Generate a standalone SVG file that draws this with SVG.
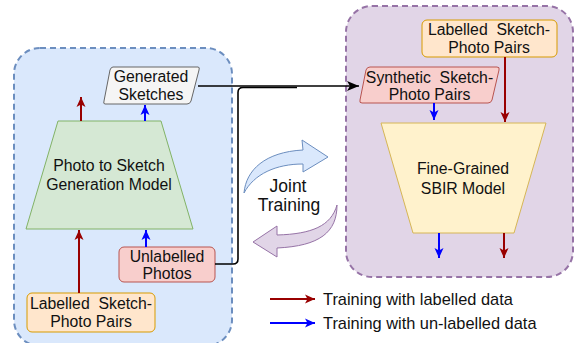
<svg xmlns="http://www.w3.org/2000/svg" width="576" height="343" viewBox="0 0 576 343">
  <defs>
    <marker id="head-red" markerUnits="userSpaceOnUse" markerWidth="12" markerHeight="12" viewBox="0 0 12 12" refX="11" refY="6" orient="auto">
      <path d="M1,1.5 L11,6 L1,10.5 L3.5,6 Z" fill="#990000"/>
    </marker>
    <marker id="head-blue" markerUnits="userSpaceOnUse" markerWidth="12" markerHeight="12" viewBox="0 0 12 12" refX="11" refY="6" orient="auto">
      <path d="M1,1.5 L11,6 L1,10.5 L3.5,6 Z" fill="#0000ff"/>
    </marker>
    <marker id="head-black" markerUnits="userSpaceOnUse" markerWidth="14" markerHeight="14" viewBox="0 0 14 14" refX="13" refY="7" orient="auto">
      <path d="M1,2 L13,7 L1,12 L4,7 Z" fill="#000000"/>
    </marker>
  </defs>
  <style>
    text { font-family: "Liberation Sans", Arial, Helvetica, sans-serif; font-size: 15.8px; fill: #111111; text-anchor: middle; }
    .legend { font-size: 16.4px; text-anchor: start; }
    .joint { font-size: 17.5px; }
    .red { stroke: #990000; stroke-width: 2; fill: none; marker-end: url(#head-red); }
    .blue { stroke: #0000ff; stroke-width: 2; fill: none; marker-end: url(#head-blue); }
    .link { stroke: #000000; stroke-width: 1.6; fill: none; }
  </style>

  <!-- containers -->
  <g id="generator-panel">
    <rect x="14" y="48" width="218" height="298" rx="26" fill="#dae8fc" stroke="#6c8ebf" stroke-width="2" stroke-dasharray="6 4"/>
  </g>
  <g id="sbir-panel">
    <rect x="346" y="6" width="227" height="271" rx="26" fill="#e1d5e7" stroke="#9673a6" stroke-width="2" stroke-dasharray="6 4"/>
  </g>

  <!-- joint training -->
  <g id="joint-training">
    <path d="M244,193 C246,170 265,152 303,150 L302,140 L328,157 L303,172 L303,164 C276,164 254,174 244,193 Z" fill="#dae8fc" stroke="#6c8ebf" stroke-width="1"/>
    <path d="M337,205 C337,232 320,246 277,248 L277,257 L253,242 L277,226 L277,235 C312,234 331,226 337,205 Z" fill="#e1d5e7" stroke="#9673a6" stroke-width="1"/>
    <text class="joint" x="288" y="191.5">Joint</text>
    <text class="joint" x="289" y="211">Training</text>
  </g>

  <!-- nodes -->
  <g id="generated-sketches">
    <path d="M113,67 L198,67 Q200,67 199,70 L191,101 Q190,104 187,104 L105,104 Q103,104 104,101 L110,70 Q111,67 113,67 Z" fill="#f5f5f5" stroke="#666666" stroke-width="1"/>
    <text x="151" y="81.5">Generated</text>
    <text x="151" y="99.5">Sketches</text>
  </g>
  <g id="sketch-generator">
    <polygon points="58,121 161,121 193,229 26,229" fill="#d5e8d4" stroke="#82b366" stroke-width="1"/>
    <text x="109" y="171">Photo to Sketch</text>
    <text x="109" y="190">Generation Model</text>
  </g>
  <g id="unlabelled-photos">
    <rect x="119" y="247" width="96" height="35" rx="5" fill="#f8cecc" stroke="#b85450" stroke-width="1"/>
    <text x="167" y="262">Unlabelled</text>
    <text x="167" y="279">Photos</text>
  </g>
  <g id="labelled-pairs-left">
    <rect x="27" y="293" width="128" height="39" rx="5" fill="#ffe6cc" stroke="#d79b00" stroke-width="1"/>
    <text x="91" y="309" xml:space="preserve">Labelled  Sketch-</text>
    <text x="91" y="327">Photo Pairs</text>
  </g>
  <g id="labelled-pairs-right">
    <rect x="422" y="20" width="135" height="37" rx="5" fill="#ffe6cc" stroke="#d79b00" stroke-width="1"/>
    <text x="489" y="35" xml:space="preserve">Labelled  Sketch-</text>
    <text x="489" y="52.5">Photo Pairs</text>
  </g>
  <g id="synthetic-pairs">
    <path d="M370,67 L497,67 Q500,67 499,70 L492,100 Q491,103 488,103 L362,103 Q359,103 360,100 L366,70 Q367,67 370,67 Z" fill="#f8cecc" stroke="#b85450" stroke-width="1"/>
    <text x="429.5" y="82.5" xml:space="preserve">Synthetic  Sketch-</text>
    <text x="429.5" y="99.5">Photo Pairs</text>
  </g>
  <g id="sbir-model">
    <polygon points="381,123 546,123 514,233 413,233" fill="#fff2cc" stroke="#d6b656" stroke-width="1"/>
    <text x="463" y="174">Fine-Grained</text>
    <text x="463" y="193.5">SBIR Model</text>
  </g>

  <!-- connectors -->
  <g id="connectors">
    <line class="red" x1="79" y1="293" x2="79" y2="230"/>
    <line class="blue" x1="146" y1="247" x2="146" y2="230"/>
    <line class="red" x1="81" y1="121" x2="81" y2="97"/>
    <line class="blue" x1="145" y1="121" x2="145" y2="105"/>
    <path class="link" d="M215,264 H233 Q238,264 238,259 V92.5 Q238,87.5 243,87.5 H297"/>
    <path class="link" d="M198,86 H359" marker-end="url(#head-black)"/>
    <line class="blue" x1="434" y1="103" x2="434" y2="120"/>
    <line class="red" x1="505" y1="57" x2="505" y2="122"/>
    <line class="blue" x1="439" y1="233" x2="439" y2="258"/>
    <line class="red" x1="504" y1="233" x2="504" y2="258"/>
  </g>

  <!-- legend -->
  <g id="legend">
    <line class="red" x1="270" y1="299" x2="315" y2="299"/>
    <text class="legend" x="323" y="305">Training with labelled data</text>
    <line class="blue" x1="270" y1="323" x2="315" y2="323"/>
    <text class="legend" x="323" y="329">Training with un-labelled data</text>
  </g>
</svg>
